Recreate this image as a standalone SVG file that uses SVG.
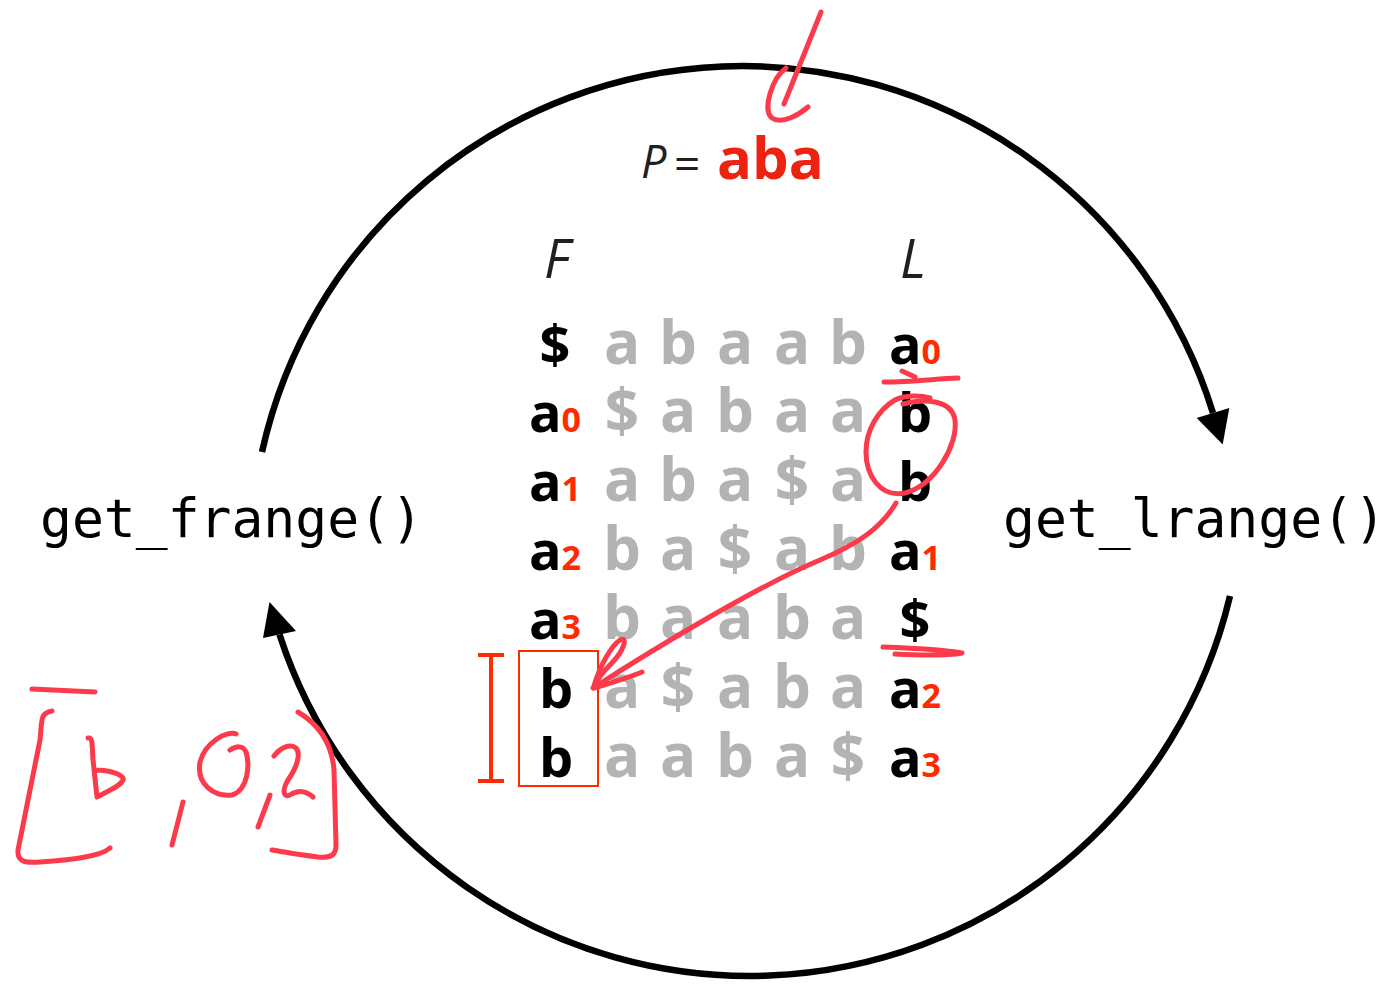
<svg xmlns="http://www.w3.org/2000/svg" width="1392" height="984" viewBox="0 0 1392 984">
<style>
.arc{fill:none;stroke:#000;stroke-width:6.5}
.mono{font-family:"DejaVu Sans Mono","Liberation Mono",monospace;font-size:53px;fill:#000}
.g{font-family:"Open Sans","Liberation Sans",sans-serif;font-weight:700;font-size:60px;fill:#b3b3b3;text-anchor:middle}
.k{font-family:"Open Sans","Liberation Sans",sans-serif;font-weight:700;font-size:54px;fill:#000;text-anchor:middle}
.s{font-size:34px;fill:#ff2a00}
.it{font-family:"Open Sans","Liberation Sans",sans-serif;font-style:italic;fill:#231f20}
.hw{fill:none;stroke:#fc3a4b;stroke-width:5;stroke-linecap:round;stroke-linejoin:round}
</style>
<rect width="1392" height="984" fill="#fff"/>
<g id="connectors">
<path class="arc" d="M262,452 A492.3,492.3 0 0 1 1213,413"/>
<polygon points="1196.7,418 1229.3,408 1222.7,444.5" fill="#000"/>
<path class="arc" d="M1230,596 A494,494 0 0 1 279.5,634.5"/>
<polygon points="263,638 296,631 269.5,602" fill="#000"/>
</g>
<g id="get_frange"><text class="mono" x="40" y="537">get_frange()</text></g>
<g id="get_lrange"><text class="mono" x="1003" y="537">get_lrange()</text></g>
<g id="pattern">
<text class="it" x="641" y="178" font-size="45">P</text>
<text x="674" y="180" font-size="46" font-family="'Open Sans','Liberation Sans',sans-serif" fill="#231f20">=</text>
<text x="717" y="179" font-size="58" font-weight="700" font-family="'Open Sans','Liberation Sans',sans-serif" fill="#ee2210">aba</text>
</g>
<g id="matrix">
<text class="it" x="557" y="278" font-size="54" text-anchor="middle">F</text>
<text class="it" x="913" y="278" font-size="54" text-anchor="middle">L</text>
<g id="row1">
<text class="k" x="555" y="364">$</text>
<text class="g" x="622" y="364">a</text><text class="g" x="678" y="364">b</text><text class="g" x="735" y="364">a</text><text class="g" x="792" y="364">a</text><text class="g" x="848" y="364">b</text>
<text class="k" x="915" y="364">a<tspan class="s">0</tspan></text>
</g>
<g id="row2">
<text class="k" x="555" y="432">a<tspan class="s">0</tspan></text>
<text class="g" x="622" y="432">$</text><text class="g" x="678" y="432">a</text><text class="g" x="735" y="432">b</text><text class="g" x="792" y="432">a</text><text class="g" x="848" y="432">a</text>
<text class="k" x="915" y="432">b</text>
</g>
<g id="row3">
<text class="k" x="555" y="501">a<tspan class="s">1</tspan></text>
<text class="g" x="622" y="501">a</text><text class="g" x="678" y="501">b</text><text class="g" x="735" y="501">a</text><text class="g" x="792" y="501">$</text><text class="g" x="848" y="501">a</text>
<text class="k" x="915" y="501">b</text>
</g>
<g id="row4">
<text class="k" x="555" y="570">a<tspan class="s">2</tspan></text>
<text class="g" x="622" y="570">b</text><text class="g" x="678" y="570">a</text><text class="g" x="735" y="570">$</text><text class="g" x="792" y="570">a</text><text class="g" x="848" y="570">b</text>
<text class="k" x="915" y="570">a<tspan class="s">1</tspan></text>
</g>
<g id="row5">
<text class="k" x="555" y="639">a<tspan class="s">3</tspan></text>
<text class="g" x="622" y="639">b</text><text class="g" x="678" y="639">a</text><text class="g" x="735" y="639">a</text><text class="g" x="792" y="639">b</text><text class="g" x="848" y="639">a</text>
<text class="k" x="915" y="639">$</text>
</g>
<g id="row6">
<text class="k" x="556" y="708">b</text>
<text class="g" x="622" y="708">a</text><text class="g" x="678" y="708">$</text><text class="g" x="735" y="708">a</text><text class="g" x="792" y="708">b</text><text class="g" x="848" y="708">a</text>
<text class="k" x="915" y="708">a<tspan class="s">2</tspan></text>
</g>
<g id="row7">
<text class="k" x="556" y="777">b</text>
<text class="g" x="622" y="777">a</text><text class="g" x="678" y="777">a</text><text class="g" x="735" y="777">b</text><text class="g" x="792" y="777">a</text><text class="g" x="848" y="777">$</text>
<text class="k" x="915" y="777">a<tspan class="s">3</tspan></text>
</g>
<g id="range-box">
<rect x="519" y="651" width="79" height="135" fill="none" stroke="#ff2a00" stroke-width="2"/>
<path d="M491,655 V782 M478,655 H504 M478,781 H504" fill="none" stroke="#ff2a00" stroke-width="4"/>
</g>
</g>
<g id="annotations">
<path class="hw" d="M821,12 L784,104"/>
<path class="hw" d="M786,68 C772,78 762,110 772,118 C782,125 800,114 808,107"/>
<path class="hw" stroke-width="6" d="M902,371 L915,377 M884,382 C910,382 935,379 958,378"/>
<path class="hw" d="M903,404 C925,398 952,400 955,420 C958,445 935,485 905,493 C880,498 866,475 866,452 C866,430 878,410 895,400 C905,395 920,395 930,398"/>
<path class="hw" d="M896,503 C880,530 855,545 820,560 C760,585 660,645 593,688"/>
<path class="hw" d="M594,686 C600,665 612,645 620,640 C628,636 625,650 610,665 C603,672 597,680 594,686 M594,688 C610,683 628,678 642,672"/>
<path class="hw" stroke-width="6" d="M883,647 C910,648 945,650 962,653 C945,656 915,655 895,654"/>
<path class="hw" d="M32,689 L95,692"/>
<path class="hw" d="M52,711 C40,713 42,720 40,740 L18,850 C17,862 25,863 40,862 C70,860 100,857 110,848"/>
<path class="hw" d="M88,738 C93,737 92,745 93,760 L97,797 M95,770 C110,770 125,775 123,780 C120,787 105,792 97,797"/>
<path class="hw" d="M183,802 L172,845"/>
<path class="hw" d="M236,734 C228,730 205,742 200,762 C196,785 215,797 232,795 C248,790 250,765 246,752 C243,745 236,746 230,750"/>
<path class="hw" d="M270,795 L258,827"/>
<path class="hw" d="M274,756 C280,748 290,743 296,748 C302,755 295,770 288,780 C282,790 283,798 290,795 C298,790 305,790 313,797"/>
<path class="hw" d="M298,712 C320,725 332,745 334,770 L336,845 C336,856 330,858 318,857 C300,855 285,852 272,850"/>
</g>
</svg>
